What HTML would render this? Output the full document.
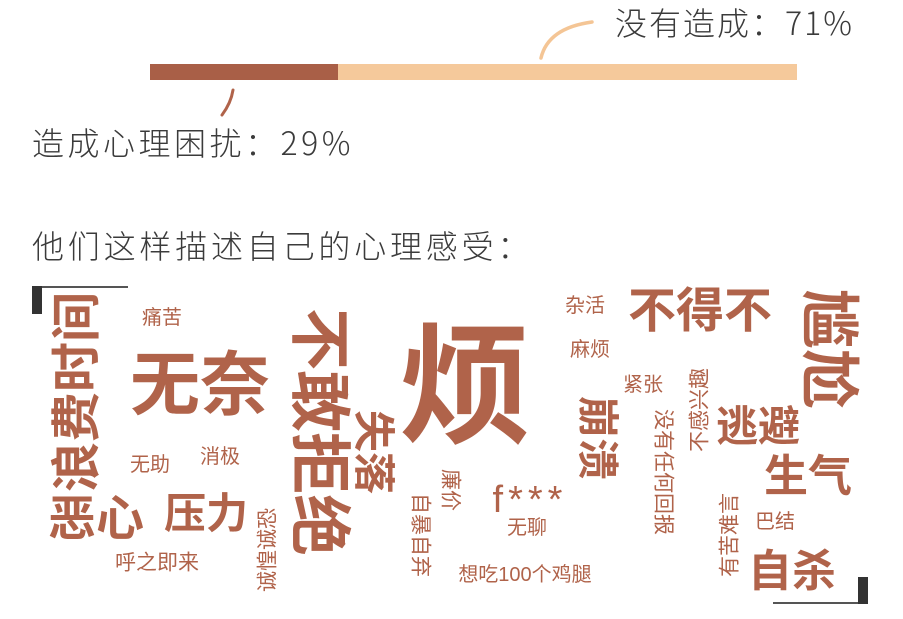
<!DOCTYPE html>
<html><head><meta charset="utf-8"><style>
html,body{margin:0;padding:0;background:#fff;}
#root{position:relative;width:903px;height:619px;overflow:hidden;font-family:"Liberation Sans","Noto Sans CJK SC",sans-serif;}
.lbl{position:absolute;color:#3b3b3b;font-size:32px;line-height:1;white-space:nowrap;font-family:"Noto Sans CJK SC","Liberation Sans",sans-serif;font-weight:300;}
.w{position:absolute;color:#b0634a;line-height:1;white-space:nowrap;transform-origin:center center;}
.seg{position:absolute;top:64px;height:16px;}
</style></head><body>
<div id="root">
  <svg width="903" height="619" style="position:absolute;left:0;top:0">
    <path d="M541 58 Q548 28 592 22" stroke="#f4c595" stroke-width="3.5" fill="none" stroke-linecap="round"/>
    <path d="M233 90 Q231 103 222 115" stroke="#b0634a" stroke-width="3" fill="none" stroke-linecap="round"/>
  </svg>
  <div id="bar"></div>
  <div class="lbl" style="left:615px;top:6px;letter-spacing:2px">没有造成：71%</div>
  <div class="lbl" style="left:32px;top:126px;letter-spacing:3.5px">造成心理困扰：29%</div>
  <div class="lbl" style="left:32px;top:229px;letter-spacing:3.8px">他们这样描述自己的心理感受：</div>
  <div style="position:absolute;left:32px;top:286px;width:96px;height:2px;background:#555"></div>
  <div style="position:absolute;left:32px;top:286px;width:10px;height:28px;background:#333"></div>
  <div style="position:absolute;left:773px;top:602px;width:95px;height:2px;background:#555"></div>
  <div style="position:absolute;left:858px;top:577px;width:10px;height:27px;background:#333"></div>
  <div id="cloud"></div>
</div>
<script>
const barLabels = ["造成心理困扰", "没有造成"];
const barValues = [29, 71];
const barColors = ["#a95f47", "#f5c99b"];
const barLeft = 150, barWidth = 647;
const bar = document.getElementById('bar');
let acc = 0;
const total = barValues.reduce((a,b)=>a+b,0);
barValues.forEach((v,i)=>{
  const d = document.createElement('div');
  d.className = 'seg';
  d.style.left = (barLeft + acc/total*barWidth) + 'px';
  d.style.width = (v/total*barWidth) + 'px';
  d.style.background = barColors[i];
  
  
  bar.appendChild(d);
  acc += v;
});

const words = ["烦","浪费时间","无奈","不敢拒绝","失落","痛苦","无助","消极","恶心","压力","呼之即来","诚惶诚恐","自暴自弃","廉价","f***","无聊","想吃100个鸡腿","杂活","麻烦","紧张","崩溃","没有任何回报","不感兴趣","不得不","尴尬","逃避","生气","巴结","有苦难言","自杀"];
const sizes = [132,50,70,62,42,20,20,20,48,42,21,21,21,21,38,20,20,20,20,20,42,21,21,48,60,42,44,20,21,44];
const cx = [465,77,200,318,373,162,150,220,96,206,157,268,420,450,530,527,525,585,590,643,597,663,700,700,828,758,808,775,730,792];
const cy = [388,392,385,432,452,318,465,457,520,514,563,550,535,490,500,528,575,306,350,385,438,472,410,312,349,427,477,522,535,572];
const rot = [0,-90,0,90,90,0,0,0,0,0,0,-90,90,90,0,0,0,0,0,0,90,90,-90,0,90,0,0,0,-90,0];
const cloud = document.getElementById('cloud');
words.forEach((w,i)=>{
  const d = document.createElement('div');
  d.className = 'w';
  d.textContent = w;
  d.style.fontSize = sizes[i] + 'px';
  d.style.fontWeight = (sizes[i] >= 30 && w !== 'f***') ? 'bold' : 'normal';
  if (w === 'f***') d.style.letterSpacing = '5px';
  d.style.left = cx[i] + 'px';
  d.style.top = cy[i] + 'px';
  d.style.transform = 'translate(-50%,-50%) rotate(' + rot[i] + 'deg)';
  
  
  cloud.appendChild(d);
});
</script>
</body></html>
